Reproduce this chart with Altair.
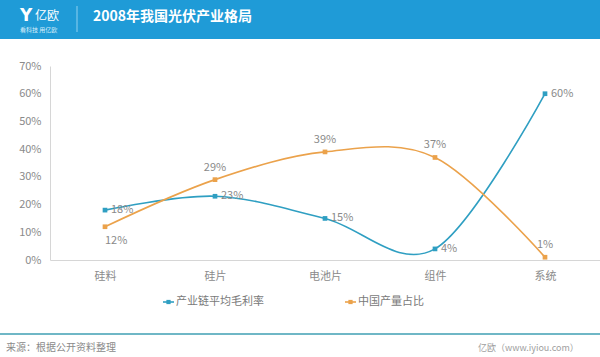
import altair as alt
import pandas as pd

categories = ["硅料", "硅片", "电池片", "组件", "系统"]
margin_rate = [0.18, 0.23, 0.15, 0.04, 0.60]
china_share = [0.12, 0.29, 0.39, 0.37, 0.01]
series_names = ["产业链平均毛利率", "中国产量占比"]
colors = ["#2f9fc2", "#eba24b"]
title_text = "2008年我国光伏产业格局"
source_text = "来源：根据公开资料整理"
credit_text = "亿欧（www.iyiou.com）"

FONT = "Noto Sans CJK SC"
W, H = 550, 194
L, T = 50, 66

rows = []
for c, v in zip(categories, margin_rate):
    rows.append({"cat": c, "series": series_names[0], "value": v})
for c, v in zip(categories, china_share):
    rows.append({"cat": c, "series": series_names[1], "value": v})
df = pd.DataFrame(rows)

xs = alt.X("cat:N", title=None,
           scale=alt.Scale(type="point", padding=0.5, domain=categories),
           axis=alt.Axis(labelAngle=0, labelColor="#8a8a8a", labelFontSize=11,
                         labelFont=FONT, ticks=False, domainColor="#d6d6d6",
                         labelPadding=10, grid=False))
ys = alt.Y("value:Q", title=None,
           scale=alt.Scale(domain=[0, 0.7], nice=False),
           axis=alt.Axis(format=".0%", values=[0, .1, .2, .3, .4, .5, .6, .7],
                         labelColor="#8a8a8a", labelFontSize=11, ticks=False,
                         domainColor="#d6d6d6", grid=False, labelPadding=9))
col = alt.Color("series:N", scale=alt.Scale(domain=series_names, range=colors), legend=None)

base = alt.Chart(df)
lines = base.mark_line(interpolate="cardinal", strokeWidth=1.6).encode(x=xs, y=ys, color=col)
pts = base.mark_point(shape="square", filled=True, size=22, opacity=1).encode(x=xs, y=ys, color=col)

blue_lab = base.transform_filter(alt.datum.series == series_names[0]).mark_text(
    align="left", baseline="middle", dx=6, fontSize=11, color="#8a8a8a"
).encode(x=xs, y=ys, text=alt.Text("value:Q", format=".0%"))

orange_up = base.transform_filter(
    (alt.datum.series == series_names[1]) & (alt.datum.cat != categories[0])
).mark_text(align="center", baseline="bottom", dy=-7, fontSize=11, color="#8a8a8a"
).encode(x=xs, y=ys, text=alt.Text("value:Q", format=".0%"))

orange_dn = base.transform_filter(
    (alt.datum.series == series_names[1]) & (alt.datum.cat == categories[0])
).mark_text(align="left", baseline="top", dx=0, dy=8, fontSize=11, color="#8a8a8a"
).encode(x=xs, y=ys, text=alt.Text("value:Q", format=".0%"))

one = pd.DataFrame({"k": [0]})
ob = alt.Chart(one)

def X(v):
    return alt.value(v - L)

def Y(v):
    return alt.value(v - T)

header = ob.mark_rect(color="#1f9bd7").encode(x=X(0), x2=X(600), y=Y(0), y2=Y(39))
sep = ob.mark_rule(color="#8fd0f0", strokeWidth=1).encode(x=X(77), y=Y(6), y2=Y(32))
logo_y = ob.mark_text(text="Y", color="white", fontSize=17, fontWeight="bold",
                      align="left", baseline="middle", font="DejaVu Sans").encode(x=X(20), y=Y(16))
logo_t = ob.mark_text(text="亿欧", color="white", fontSize=12,
                      align="left", baseline="middle").encode(x=X(35), y=Y(16))
logo_s = ob.mark_text(text="看科技 用亿欧", color="#d8eefa", fontSize=6,
                      align="left", baseline="middle").encode(x=X(20), y=Y(30))
title = ob.mark_text(text=title_text, color="white", fontSize=14, fontWeight="bold",
                     align="left", baseline="middle").encode(x=X(93), y=Y(17))

legend_layers = []
for name, c, lx in zip(series_names, colors, [163, 345]):
    legend_layers.append(ob.mark_rule(color=c, strokeWidth=1.6).encode(
        x=X(lx), x2=X(lx + 11), y=Y(302)))
    legend_layers.append(ob.mark_point(shape="square", filled=True, size=18, opacity=1,
                                       color=c).encode(x=X(lx + 5.5), y=Y(302)))
    legend_layers.append(ob.mark_text(text=name, align="left", baseline="middle",
                                      fontSize=11, color="#7a7a7a").encode(
        x=X(lx + 13), y=Y(302)))

footer_line = ob.mark_rule(color="#6fb7c6", strokeWidth=2).encode(x=X(0), x2=X(600), y=Y(334))
src = ob.mark_text(text=source_text, color="#8a8a8a", fontSize=10, align="left",
                   baseline="middle").encode(x=X(6), y=Y(348))
cred = ob.mark_text(text=credit_text, color="#a0a0a0", fontSize=9, align="left",
                    baseline="middle").encode(x=X(478), y=Y(348))

chart = alt.layer(
    header, sep, logo_y, logo_t, logo_s, title,
    lines, pts, blue_lab, orange_up, orange_dn,
    *legend_layers, footer_line, src, cred
).properties(
    width=W, height=H,
    autosize=alt.AutoSizeParams(type="none"),
    padding={"left": L, "top": T, "right": 600 - L - W, "bottom": 357 - T - H},
).configure(font=FONT, background="white").configure_view(stroke=None)

chart.save("out.html", embed_options={"renderer": "svg", "actions": False})
